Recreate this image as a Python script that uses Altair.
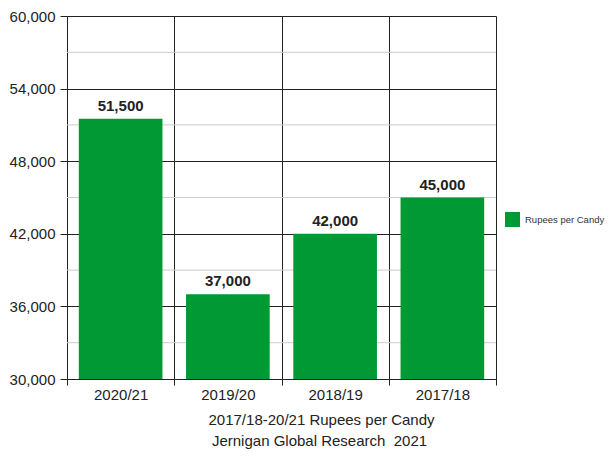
import altair as alt
import pandas as pd

categories = ["2020/21", "2019/20", "2018/19", "2017/18"]
values = [51500, 37000, 42000, 45000]
series_name = "Rupees per Candy"
y_major = [30000, 36000, 42000, 48000, 54000, 60000]
y_minor = [33000, 39000, 45000, 51000, 57000]

df = pd.DataFrame({"period": categories, "value": values, "series": [series_name] * len(categories)})
minor_df = pd.DataFrame({"value": y_minor})

FONT = "Liberation Sans"
TXT = "#222222"
LINE = "#222222"

y_scale = alt.Scale(domain=[30000, 60000], nice=False, zero=False)

minor = alt.Chart(minor_df).mark_rule(color="#cccccc", strokeWidth=1).encode(
    y=alt.Y("value:Q", scale=y_scale)
)

x_enc = alt.X(
    "period:N",
    sort=None,
    scale=alt.Scale(paddingInner=0, paddingOuter=0),
    axis=alt.Axis(
        title="2017/18-20/21 Rupees per Candy",
        titleX=254,
        titlePadding=10,
        labelAngle=0,
        tickBand="extent",
        grid=True,
        gridColor=LINE,
        tickColor=LINE,
        tickSize=6,
        labelPadding=2,
        domainColor=LINE,
    ),
)

y_enc = alt.Y(
    "value:Q",
    scale=y_scale,
    axis=alt.Axis(
        title=None,
        values=y_major,
        format=",.0f",
        grid=True,
        gridColor=LINE,
        tickColor=LINE,
        tickSize=7,
        labelPadding=5,
        domainColor=LINE,
    ),
)

bars = alt.Chart(df).mark_bar(color="#009933", width=alt.RelativeBandSize(0.78)).encode(
    x=x_enc,
    y=y_enc,
    y2=alt.datum(30000),
    color=alt.Color(
        "series:N",
        scale=alt.Scale(range=["#009933"]),
        legend=alt.Legend(
            title=None,
            orient="none",
            legendX=438,
            legendY=196,
            padding=0,
            symbolType="square",
            symbolSize=225,
            symbolStrokeWidth=0,
            labelFontSize=9.5,
            labelColor="#333333",
            labelOffset=5,
        ),
    ),
)

labels = alt.Chart(df).mark_text(
    font=FONT, fontSize=15, fontWeight="bold", color=TXT, baseline="alphabetic", dy=-8
).encode(
    x=alt.X("period:N", sort=None),
    y=alt.Y("value:Q", scale=y_scale),
    text=alt.Text("value:Q", format=",.0f"),
)

chart = (
    alt.layer(minor, bars, labels)
    .properties(
        width=429,
        height=363,
        autosize=alt.AutoSizeParams(type="none"),
        padding={"left": 59, "top": 8, "right": 111, "bottom": 73},
        title=alt.TitleParams(
            "Jernigan Global Research \u00a02021",
            orient="bottom",
            anchor="middle",
            frame="group",
            dx=38,
            offset=7,
            fontSize=15,
            fontWeight="normal",
            font=FONT,
            color=TXT,
        ),
    )
    .configure_view(stroke=None)
    .configure_axis(
        labelFont=FONT,
        labelFontSize=15,
        labelColor=TXT,
        titleFont=FONT,
        titleFontSize=15,
        titleFontWeight="normal",
        titleColor=TXT,
        gridWidth=1,
        domainWidth=1,
    )
    .configure_legend(labelFont=FONT)
)

chart.save("out.html", embed_options={"renderer": "svg", "actions": False})
